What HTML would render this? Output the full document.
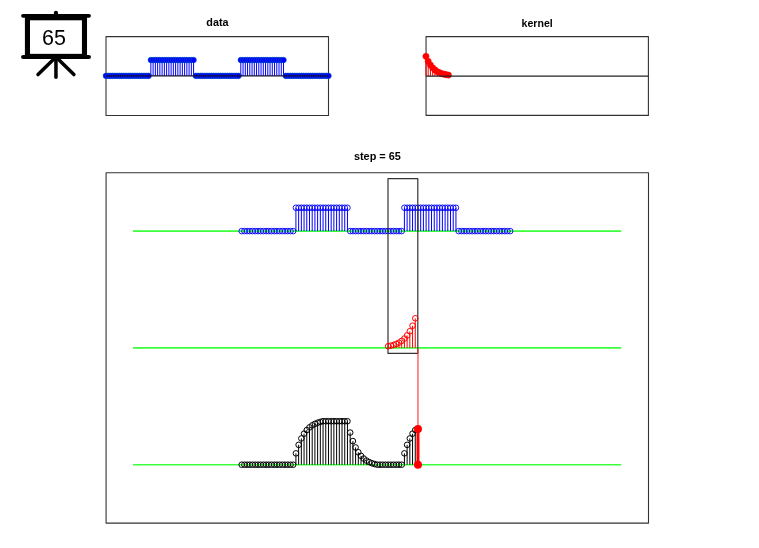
<!DOCTYPE html>
<html><head><meta charset="utf-8"><style>
html,body{margin:0;padding:0;background:#fff;}
svg{display:block;font-family:"Liberation Sans", sans-serif;} text{filter:grayscale(1);}
</style></head><body>
<svg width="759" height="548" viewBox="0 0 759 548">
<rect width="759" height="548" fill="#fff"/>
<g stroke="#000" stroke-linecap="round" fill="none">
<path d="M23.0 15.8H89.0" stroke-width="3.8"/>
<path d="M23.0 57.0H89.0" stroke-width="3.85"/>
<path d="M55.95 12.7V15" stroke-width="4.1"/>
<rect x="27.45" y="17.75" width="57.03" height="38.65" stroke-width="5.1" stroke-linecap="butt"/>
<path d="M55.95 57V77.2" stroke-width="3.5"/>
<path d="M55.95 57L38.0 74.6M55.95 57L73.9 74.6" stroke-width="3.5"/>
</g>
<text x="53.9" y="44.8" font-size="21.5" text-anchor="middle">65</text>
<text x="217.4" y="25.8" font-size="10.8" font-weight="bold" text-anchor="middle">data</text>
<text x="537.2" y="26.8" font-size="10.6" font-weight="bold" text-anchor="middle">kernel</text>
<text x="377.4" y="159.75" font-size="10.9" font-weight="bold" text-anchor="middle">step = 65</text>
<g fill="none" stroke="#333" stroke-width="1.1" stroke-linejoin="round">
<rect x="106.0" y="36.6" width="222.5" height="78.85"/>
<rect x="426.05" y="36.6" width="222.35" height="78.8"/>
<rect x="106.07" y="172.8" width="542.43" height="350.3"/>
</g>
<path d="M150.87 75.85V60.05M153.12 75.85V60.05M155.37 75.85V60.05M157.62 75.85V60.05M159.86 75.85V60.05M162.11 75.85V60.05M164.36 75.85V60.05M166.61 75.85V60.05M168.86 75.85V60.05M171.11 75.85V60.05M173.35 75.85V60.05M175.6 75.85V60.05M177.85 75.85V60.05M180.1 75.85V60.05M182.35 75.85V60.05M184.6 75.85V60.05M186.85 75.85V60.05M189.09 75.85V60.05M191.34 75.85V60.05M193.59 75.85V60.05M240.81 75.85V60.05M243.06 75.85V60.05M245.31 75.85V60.05M247.55 75.85V60.05M249.8 75.85V60.05M252.05 75.85V60.05M254.3 75.85V60.05M256.55 75.85V60.05M258.8 75.85V60.05M261.05 75.85V60.05M263.29 75.85V60.05M265.54 75.85V60.05M267.79 75.85V60.05M270.04 75.85V60.05M272.29 75.85V60.05M274.54 75.85V60.05M276.78 75.85V60.05M279.03 75.85V60.05M281.28 75.85V60.05M283.53 75.85V60.05" stroke="#0000ff" stroke-width="1" fill="none"/>
<g fill="#0000ff" stroke="#0050c0" stroke-width="0.6"><circle cx="105.9" cy="75.85" r="2.8"/><circle cx="108.15" cy="75.85" r="2.8"/><circle cx="110.4" cy="75.85" r="2.8"/><circle cx="112.65" cy="75.85" r="2.8"/><circle cx="114.89" cy="75.85" r="2.8"/><circle cx="117.14" cy="75.85" r="2.8"/><circle cx="119.39" cy="75.85" r="2.8"/><circle cx="121.64" cy="75.85" r="2.8"/><circle cx="123.89" cy="75.85" r="2.8"/><circle cx="126.14" cy="75.85" r="2.8"/><circle cx="128.38" cy="75.85" r="2.8"/><circle cx="130.63" cy="75.85" r="2.8"/><circle cx="132.88" cy="75.85" r="2.8"/><circle cx="135.13" cy="75.85" r="2.8"/><circle cx="137.38" cy="75.85" r="2.8"/><circle cx="139.63" cy="75.85" r="2.8"/><circle cx="141.88" cy="75.85" r="2.8"/><circle cx="144.12" cy="75.85" r="2.8"/><circle cx="146.37" cy="75.85" r="2.8"/><circle cx="148.62" cy="75.85" r="2.8"/><circle cx="150.87" cy="60.05" r="2.8"/><circle cx="153.12" cy="60.05" r="2.8"/><circle cx="155.37" cy="60.05" r="2.8"/><circle cx="157.62" cy="60.05" r="2.8"/><circle cx="159.86" cy="60.05" r="2.8"/><circle cx="162.11" cy="60.05" r="2.8"/><circle cx="164.36" cy="60.05" r="2.8"/><circle cx="166.61" cy="60.05" r="2.8"/><circle cx="168.86" cy="60.05" r="2.8"/><circle cx="171.11" cy="60.05" r="2.8"/><circle cx="173.35" cy="60.05" r="2.8"/><circle cx="175.6" cy="60.05" r="2.8"/><circle cx="177.85" cy="60.05" r="2.8"/><circle cx="180.1" cy="60.05" r="2.8"/><circle cx="182.35" cy="60.05" r="2.8"/><circle cx="184.6" cy="60.05" r="2.8"/><circle cx="186.85" cy="60.05" r="2.8"/><circle cx="189.09" cy="60.05" r="2.8"/><circle cx="191.34" cy="60.05" r="2.8"/><circle cx="193.59" cy="60.05" r="2.8"/><circle cx="195.84" cy="75.85" r="2.8"/><circle cx="198.09" cy="75.85" r="2.8"/><circle cx="200.34" cy="75.85" r="2.8"/><circle cx="202.58" cy="75.85" r="2.8"/><circle cx="204.83" cy="75.85" r="2.8"/><circle cx="207.08" cy="75.85" r="2.8"/><circle cx="209.33" cy="75.85" r="2.8"/><circle cx="211.58" cy="75.85" r="2.8"/><circle cx="213.83" cy="75.85" r="2.8"/><circle cx="216.08" cy="75.85" r="2.8"/><circle cx="218.32" cy="75.85" r="2.8"/><circle cx="220.57" cy="75.85" r="2.8"/><circle cx="222.82" cy="75.85" r="2.8"/><circle cx="225.07" cy="75.85" r="2.8"/><circle cx="227.32" cy="75.85" r="2.8"/><circle cx="229.57" cy="75.85" r="2.8"/><circle cx="231.82" cy="75.85" r="2.8"/><circle cx="234.06" cy="75.85" r="2.8"/><circle cx="236.31" cy="75.85" r="2.8"/><circle cx="238.56" cy="75.85" r="2.8"/><circle cx="240.81" cy="60.05" r="2.8"/><circle cx="243.06" cy="60.05" r="2.8"/><circle cx="245.31" cy="60.05" r="2.8"/><circle cx="247.55" cy="60.05" r="2.8"/><circle cx="249.8" cy="60.05" r="2.8"/><circle cx="252.05" cy="60.05" r="2.8"/><circle cx="254.3" cy="60.05" r="2.8"/><circle cx="256.55" cy="60.05" r="2.8"/><circle cx="258.8" cy="60.05" r="2.8"/><circle cx="261.05" cy="60.05" r="2.8"/><circle cx="263.29" cy="60.05" r="2.8"/><circle cx="265.54" cy="60.05" r="2.8"/><circle cx="267.79" cy="60.05" r="2.8"/><circle cx="270.04" cy="60.05" r="2.8"/><circle cx="272.29" cy="60.05" r="2.8"/><circle cx="274.54" cy="60.05" r="2.8"/><circle cx="276.78" cy="60.05" r="2.8"/><circle cx="279.03" cy="60.05" r="2.8"/><circle cx="281.28" cy="60.05" r="2.8"/><circle cx="283.53" cy="60.05" r="2.8"/><circle cx="285.78" cy="75.85" r="2.8"/><circle cx="288.03" cy="75.85" r="2.8"/><circle cx="290.28" cy="75.85" r="2.8"/><circle cx="292.52" cy="75.85" r="2.8"/><circle cx="294.77" cy="75.85" r="2.8"/><circle cx="297.02" cy="75.85" r="2.8"/><circle cx="299.27" cy="75.85" r="2.8"/><circle cx="301.52" cy="75.85" r="2.8"/><circle cx="303.77" cy="75.85" r="2.8"/><circle cx="306.02" cy="75.85" r="2.8"/><circle cx="308.26" cy="75.85" r="2.8"/><circle cx="310.51" cy="75.85" r="2.8"/><circle cx="312.76" cy="75.85" r="2.8"/><circle cx="315.01" cy="75.85" r="2.8"/><circle cx="317.26" cy="75.85" r="2.8"/><circle cx="319.51" cy="75.85" r="2.8"/><circle cx="321.75" cy="75.85" r="2.8"/><circle cx="324" cy="75.85" r="2.8"/><circle cx="326.25" cy="75.85" r="2.8"/><circle cx="328.5" cy="75.85" r="2.8"/></g>
<path d="M105.9 75.85H328.5" stroke="#101030" stroke-width="1.3"/>
<path d="M425.95 76.2V56.3M428.2 76.2V61.28M430.45 76.2V65.01M432.7 76.2V67.8M434.94 76.2V69.9M437.19 76.2V71.48M439.44 76.2V72.66M441.69 76.2V73.54M443.94 76.2V74.21M446.19 76.2V74.71M448.43 76.2V75.08" stroke="#ff0000" stroke-width="1" fill="none"/>
<g fill="#ff0000" stroke="#ff0000" stroke-width="0.5"><circle cx="425.95" cy="56.3" r="3.1"/><circle cx="428.2" cy="61.28" r="3.1"/><circle cx="430.45" cy="65.01" r="3.1"/><circle cx="432.7" cy="67.8" r="3.1"/><circle cx="434.94" cy="69.9" r="3.1"/><circle cx="437.19" cy="71.48" r="3.1"/><circle cx="439.44" cy="72.66" r="3.1"/><circle cx="441.69" cy="73.54" r="3.1"/><circle cx="443.94" cy="74.21" r="3.1"/><circle cx="446.19" cy="74.71" r="3.1"/><circle cx="448.43" cy="75.08" r="3.1"/></g>
<path d="M425.95 76.2H648.4" stroke="#222" stroke-width="1.3"/>
<path d="M133.0 231.1H621.3M133.0 347.9H621.3M133.0 464.7H621.3" stroke="#3cff3c" stroke-width="1.6"/>
<path d="M295.92 231.1V207.75M298.64 231.1V207.75M301.35 231.1V207.75M304.06 231.1V207.75M306.77 231.1V207.75M309.49 231.1V207.75M312.2 231.1V207.75M314.91 231.1V207.75M317.62 231.1V207.75M320.33 231.1V207.75M323.05 231.1V207.75M325.76 231.1V207.75M328.47 231.1V207.75M331.18 231.1V207.75M333.89 231.1V207.75M336.61 231.1V207.75M339.32 231.1V207.75M342.03 231.1V207.75M344.74 231.1V207.75M347.46 231.1V207.75M404.41 231.1V207.75M407.12 231.1V207.75M409.84 231.1V207.75M412.55 231.1V207.75M415.26 231.1V207.75M417.97 231.1V207.75M420.69 231.1V207.75M423.4 231.1V207.75M426.11 231.1V207.75M428.82 231.1V207.75M431.53 231.1V207.75M434.25 231.1V207.75M436.96 231.1V207.75M439.67 231.1V207.75M442.38 231.1V207.75M445.1 231.1V207.75M447.81 231.1V207.75M450.52 231.1V207.75M453.23 231.1V207.75M455.94 231.1V207.75" stroke="#0000ff" stroke-width="1" fill="none"/>
<g fill="none" stroke="#0000ff" stroke-width="0.9"><circle cx="241.68" cy="231.1" r="2.8"/><circle cx="244.39" cy="231.1" r="2.8"/><circle cx="247.1" cy="231.1" r="2.8"/><circle cx="249.82" cy="231.1" r="2.8"/><circle cx="252.53" cy="231.1" r="2.8"/><circle cx="255.24" cy="231.1" r="2.8"/><circle cx="257.95" cy="231.1" r="2.8"/><circle cx="260.67" cy="231.1" r="2.8"/><circle cx="263.38" cy="231.1" r="2.8"/><circle cx="266.09" cy="231.1" r="2.8"/><circle cx="268.8" cy="231.1" r="2.8"/><circle cx="271.51" cy="231.1" r="2.8"/><circle cx="274.23" cy="231.1" r="2.8"/><circle cx="276.94" cy="231.1" r="2.8"/><circle cx="279.65" cy="231.1" r="2.8"/><circle cx="282.36" cy="231.1" r="2.8"/><circle cx="285.08" cy="231.1" r="2.8"/><circle cx="287.79" cy="231.1" r="2.8"/><circle cx="290.5" cy="231.1" r="2.8"/><circle cx="293.21" cy="231.1" r="2.8"/><circle cx="295.92" cy="207.75" r="2.8"/><circle cx="298.64" cy="207.75" r="2.8"/><circle cx="301.35" cy="207.75" r="2.8"/><circle cx="304.06" cy="207.75" r="2.8"/><circle cx="306.77" cy="207.75" r="2.8"/><circle cx="309.49" cy="207.75" r="2.8"/><circle cx="312.2" cy="207.75" r="2.8"/><circle cx="314.91" cy="207.75" r="2.8"/><circle cx="317.62" cy="207.75" r="2.8"/><circle cx="320.33" cy="207.75" r="2.8"/><circle cx="323.05" cy="207.75" r="2.8"/><circle cx="325.76" cy="207.75" r="2.8"/><circle cx="328.47" cy="207.75" r="2.8"/><circle cx="331.18" cy="207.75" r="2.8"/><circle cx="333.89" cy="207.75" r="2.8"/><circle cx="336.61" cy="207.75" r="2.8"/><circle cx="339.32" cy="207.75" r="2.8"/><circle cx="342.03" cy="207.75" r="2.8"/><circle cx="344.74" cy="207.75" r="2.8"/><circle cx="347.46" cy="207.75" r="2.8"/><circle cx="350.17" cy="231.1" r="2.8"/><circle cx="352.88" cy="231.1" r="2.8"/><circle cx="355.59" cy="231.1" r="2.8"/><circle cx="358.3" cy="231.1" r="2.8"/><circle cx="361.02" cy="231.1" r="2.8"/><circle cx="363.73" cy="231.1" r="2.8"/><circle cx="366.44" cy="231.1" r="2.8"/><circle cx="369.15" cy="231.1" r="2.8"/><circle cx="371.87" cy="231.1" r="2.8"/><circle cx="374.58" cy="231.1" r="2.8"/><circle cx="377.29" cy="231.1" r="2.8"/><circle cx="380" cy="231.1" r="2.8"/><circle cx="382.71" cy="231.1" r="2.8"/><circle cx="385.43" cy="231.1" r="2.8"/><circle cx="388.14" cy="231.1" r="2.8"/><circle cx="390.85" cy="231.1" r="2.8"/><circle cx="393.56" cy="231.1" r="2.8"/><circle cx="396.28" cy="231.1" r="2.8"/><circle cx="398.99" cy="231.1" r="2.8"/><circle cx="401.7" cy="231.1" r="2.8"/><circle cx="404.41" cy="207.75" r="2.8"/><circle cx="407.12" cy="207.75" r="2.8"/><circle cx="409.84" cy="207.75" r="2.8"/><circle cx="412.55" cy="207.75" r="2.8"/><circle cx="415.26" cy="207.75" r="2.8"/><circle cx="417.97" cy="207.75" r="2.8"/><circle cx="420.69" cy="207.75" r="2.8"/><circle cx="423.4" cy="207.75" r="2.8"/><circle cx="426.11" cy="207.75" r="2.8"/><circle cx="428.82" cy="207.75" r="2.8"/><circle cx="431.53" cy="207.75" r="2.8"/><circle cx="434.25" cy="207.75" r="2.8"/><circle cx="436.96" cy="207.75" r="2.8"/><circle cx="439.67" cy="207.75" r="2.8"/><circle cx="442.38" cy="207.75" r="2.8"/><circle cx="445.1" cy="207.75" r="2.8"/><circle cx="447.81" cy="207.75" r="2.8"/><circle cx="450.52" cy="207.75" r="2.8"/><circle cx="453.23" cy="207.75" r="2.8"/><circle cx="455.94" cy="207.75" r="2.8"/><circle cx="458.66" cy="231.1" r="2.8"/><circle cx="461.37" cy="231.1" r="2.8"/><circle cx="464.08" cy="231.1" r="2.8"/><circle cx="466.79" cy="231.1" r="2.8"/><circle cx="469.5" cy="231.1" r="2.8"/><circle cx="472.22" cy="231.1" r="2.8"/><circle cx="474.93" cy="231.1" r="2.8"/><circle cx="477.64" cy="231.1" r="2.8"/><circle cx="480.35" cy="231.1" r="2.8"/><circle cx="483.07" cy="231.1" r="2.8"/><circle cx="485.78" cy="231.1" r="2.8"/><circle cx="488.49" cy="231.1" r="2.8"/><circle cx="491.2" cy="231.1" r="2.8"/><circle cx="493.91" cy="231.1" r="2.8"/><circle cx="496.63" cy="231.1" r="2.8"/><circle cx="499.34" cy="231.1" r="2.8"/><circle cx="502.05" cy="231.1" r="2.8"/><circle cx="504.76" cy="231.1" r="2.8"/><circle cx="507.48" cy="231.1" r="2.8"/><circle cx="510.19" cy="231.1" r="2.8"/></g>
<rect x="388.0" y="178.7" width="29.8" height="174.7" fill="none" stroke="#333" stroke-width="1.2" stroke-linejoin="round"/>
<path d="M415.26 347.9V318.3M412.55 347.9V325.7M409.84 347.9V331.25M407.12 347.9V335.41M404.41 347.9V338.53M401.7 347.9V340.88M398.99 347.9V342.63M396.28 347.9V343.95M393.56 347.9V344.94M390.85 347.9V345.68M388.14 347.9V346.23" stroke="#ff0000" stroke-width="1" fill="none"/>
<g fill="none" stroke="#ff0000" stroke-width="1"><circle cx="415.26" cy="318.3" r="2.8"/><circle cx="412.55" cy="325.7" r="2.8"/><circle cx="409.84" cy="331.25" r="2.8"/><circle cx="407.12" cy="335.41" r="2.8"/><circle cx="404.41" cy="338.53" r="2.8"/><circle cx="401.7" cy="340.88" r="2.8"/><circle cx="398.99" cy="342.63" r="2.8"/><circle cx="396.28" cy="343.95" r="2.8"/><circle cx="393.56" cy="344.94" r="2.8"/><circle cx="390.85" cy="345.68" r="2.8"/><circle cx="388.14" cy="346.23" r="2.8"/></g>
<path d="M295.92 464.7V453.35M298.64 464.7V444.84M301.35 464.7V438.45M304.06 464.7V433.66M306.77 464.7V430.07M309.49 464.7V427.38M312.2 464.7V425.36M314.91 464.7V423.85M317.62 464.7V422.71M320.33 464.7V421.86M323.05 464.7V421.22M325.76 464.7V421.22M328.47 464.7V421.22M331.18 464.7V421.22M333.89 464.7V421.22M336.61 464.7V421.22M339.32 464.7V421.22M342.03 464.7V421.22M344.74 464.7V421.22M347.46 464.7V421.22M350.17 464.7V432.57M352.88 464.7V441.08M355.59 464.7V447.46M358.3 464.7V452.25M361.02 464.7V455.84M363.73 464.7V458.54M366.44 464.7V460.56M369.15 464.7V462.07M371.87 464.7V463.21M374.58 464.7V464.06M404.41 464.7V453.35M407.12 464.7V444.84M409.84 464.7V438.45M412.55 464.7V433.66M415.26 464.7V430.07" stroke="#000" stroke-width="1" fill="none"/>
<g fill="none" stroke="#000" stroke-width="1"><circle cx="241.68" cy="464.7" r="2.8"/><circle cx="244.39" cy="464.7" r="2.8"/><circle cx="247.1" cy="464.7" r="2.8"/><circle cx="249.82" cy="464.7" r="2.8"/><circle cx="252.53" cy="464.7" r="2.8"/><circle cx="255.24" cy="464.7" r="2.8"/><circle cx="257.95" cy="464.7" r="2.8"/><circle cx="260.67" cy="464.7" r="2.8"/><circle cx="263.38" cy="464.7" r="2.8"/><circle cx="266.09" cy="464.7" r="2.8"/><circle cx="268.8" cy="464.7" r="2.8"/><circle cx="271.51" cy="464.7" r="2.8"/><circle cx="274.23" cy="464.7" r="2.8"/><circle cx="276.94" cy="464.7" r="2.8"/><circle cx="279.65" cy="464.7" r="2.8"/><circle cx="282.36" cy="464.7" r="2.8"/><circle cx="285.08" cy="464.7" r="2.8"/><circle cx="287.79" cy="464.7" r="2.8"/><circle cx="290.5" cy="464.7" r="2.8"/><circle cx="293.21" cy="464.7" r="2.8"/><circle cx="295.92" cy="453.35" r="2.8"/><circle cx="298.64" cy="444.84" r="2.8"/><circle cx="301.35" cy="438.45" r="2.8"/><circle cx="304.06" cy="433.66" r="2.8"/><circle cx="306.77" cy="430.07" r="2.8"/><circle cx="309.49" cy="427.38" r="2.8"/><circle cx="312.2" cy="425.36" r="2.8"/><circle cx="314.91" cy="423.85" r="2.8"/><circle cx="317.62" cy="422.71" r="2.8"/><circle cx="320.33" cy="421.86" r="2.8"/><circle cx="323.05" cy="421.22" r="2.8"/><circle cx="325.76" cy="421.22" r="2.8"/><circle cx="328.47" cy="421.22" r="2.8"/><circle cx="331.18" cy="421.22" r="2.8"/><circle cx="333.89" cy="421.22" r="2.8"/><circle cx="336.61" cy="421.22" r="2.8"/><circle cx="339.32" cy="421.22" r="2.8"/><circle cx="342.03" cy="421.22" r="2.8"/><circle cx="344.74" cy="421.22" r="2.8"/><circle cx="347.46" cy="421.22" r="2.8"/><circle cx="350.17" cy="432.57" r="2.8"/><circle cx="352.88" cy="441.08" r="2.8"/><circle cx="355.59" cy="447.46" r="2.8"/><circle cx="358.3" cy="452.25" r="2.8"/><circle cx="361.02" cy="455.84" r="2.8"/><circle cx="363.73" cy="458.54" r="2.8"/><circle cx="366.44" cy="460.56" r="2.8"/><circle cx="369.15" cy="462.07" r="2.8"/><circle cx="371.87" cy="463.21" r="2.8"/><circle cx="374.58" cy="464.06" r="2.8"/><circle cx="377.29" cy="464.7" r="2.8"/><circle cx="380" cy="464.7" r="2.8"/><circle cx="382.71" cy="464.7" r="2.8"/><circle cx="385.43" cy="464.7" r="2.8"/><circle cx="388.14" cy="464.7" r="2.8"/><circle cx="390.85" cy="464.7" r="2.8"/><circle cx="393.56" cy="464.7" r="2.8"/><circle cx="396.28" cy="464.7" r="2.8"/><circle cx="398.99" cy="464.7" r="2.8"/><circle cx="401.7" cy="464.7" r="2.8"/><circle cx="404.41" cy="453.35" r="2.8"/><circle cx="407.12" cy="444.84" r="2.8"/><circle cx="409.84" cy="438.45" r="2.8"/><circle cx="412.55" cy="433.66" r="2.8"/><circle cx="415.26" cy="430.07" r="2.8"/></g>
<path d="M417.97 347.9V429.1" stroke="#ff3030" stroke-width="1.1"/>
<path d="M417.97 429.1V464.7" stroke="#ff0000" stroke-width="3"/>
<circle cx="417.97" cy="429.1" r="4" fill="#ff0000"/>
<circle cx="417.97" cy="464.7" r="4" fill="#ff0000"/>
</svg>
</body></html>
